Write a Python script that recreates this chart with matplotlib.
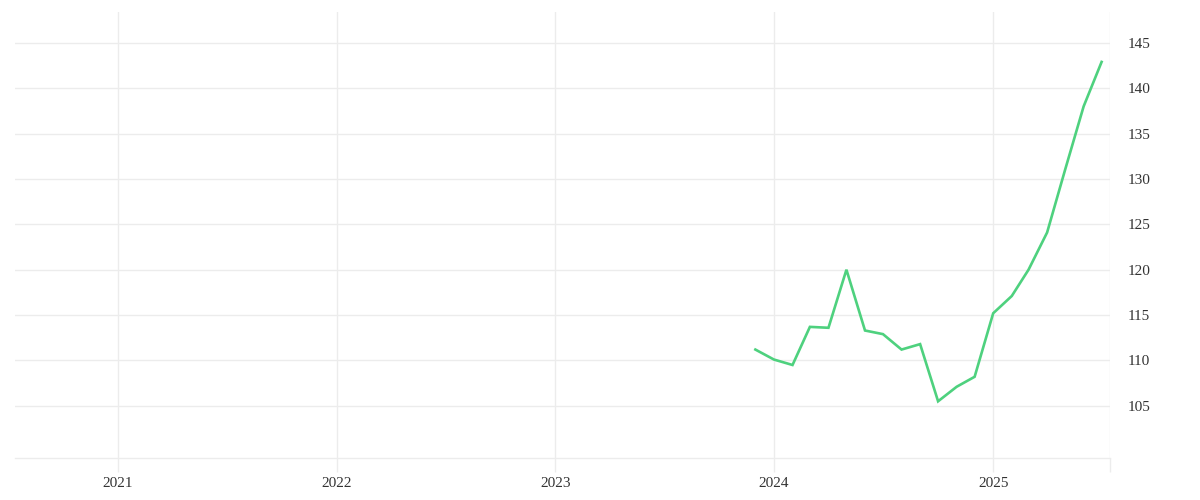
import matplotlib
matplotlib.use("Agg")
import matplotlib.pyplot as plt
import matplotlib.dates as mdates
import pandas as pd

# monthly index values, Dec 2023 .. Jul 2025
months = pd.date_range("2023-12-01", "2025-07-01", freq="MS")
values = [
    111.2, 110.1, 109.5, 113.7, 113.6, 120.0, 113.3, 112.9, 111.2, 111.8,
    105.5, 107.1, 108.2, 115.2, 117.1, 120.0, 124.1, 131.0, 138.0, 142.9,
]
year_ticks = pd.to_datetime(["2021-01-01", "2022-01-01", "2023-01-01", "2024-01-01", "2025-01-01"])
year_labels = ["2021", "2022", "2023", "2024", "2025"]
y_ticks = [105, 110, 115, 120, 125, 130, 135, 140, 145]

x_min = pd.Timestamp("2020-07-13")
x_max = pd.Timestamp("2025-07-15")

GRID = "#ececec"
TEXT = "#333333"

plt.rcParams["font.family"] = ["Liberation Serif", "DejaVu Serif"]

fig = plt.figure(figsize=(12, 5), dpi=100)
ax = fig.add_axes([15 / 1200, 42 / 500, 1095 / 1200, 446 / 500])

ax.plot(months, values, color="#4ed17e", linewidth=1.9, solid_joinstyle="miter")

ax.set_xlim(x_min, x_max)
ax.set_ylim(99.25, 148.4)

ax.set_xticks(year_ticks)
ax.set_xticklabels(year_labels)
ax.set_xticks([mdates.date2num(x_max)], minor=True)
ax.set_yticks(y_ticks)

ax.yaxis.tick_right()
ax.tick_params(axis="y", length=0, pad=13, labelsize=11, labelcolor=TEXT)
ax.tick_params(axis="x", which="both", length=10, width=1, color=GRID,
               pad=4, labelsize=11, labelcolor=TEXT)

ax.grid(True, which="major", color=GRID, linewidth=1)
ax.grid(True, which="minor", axis="x", color=GRID, linewidth=1)
ax.set_axisbelow(True)

for side in ["top", "left", "right"]:
    ax.spines[side].set_visible(False)
ax.spines["bottom"].set_color(GRID)
ax.spines["bottom"].set_linewidth(1)

fig.savefig("out.png", dpi=100)
plt.close(fig)
